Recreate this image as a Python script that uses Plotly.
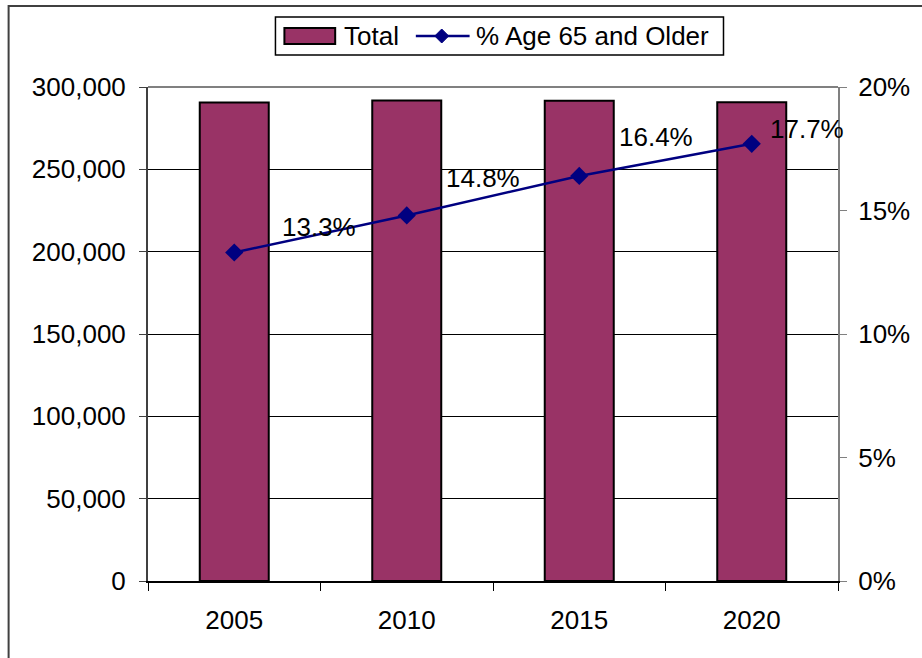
import plotly.graph_objects as go

years = ["2005", "2010", "2015", "2020"]
total = [290600, 291800, 291600, 290700]
pct_65 = [0.133, 0.148, 0.164, 0.177]
pct_labels = ["13.3%", "14.8%", "16.4%", "17.7%"]
series_names = ["Total", "% Age 65 and Older"]

# label offsets (px) mimicking Excel's label placement
label_dx = [85, 76, 77, 55]
label_dy = [25, 37, 39, 15]

FONT = "Liberation Sans, Arial, sans-serif"
FS = 26
BAR_COLOR = "#993366"
LINE_COLOR = "#000080"

W, H = 922, 658
ML, MR, MT, MB = 148, 81, 87, 77
PW, PH = W - ML - MR, H - MT - MB


def px(x):
    return (x - ML) / PW


def py(y):
    return 1 - (y - MT) / PH


fig = go.Figure()
fig.add_trace(go.Bar(
    x=years, y=total, name=series_names[0], width=0.4, showlegend=False,
    marker=dict(color=BAR_COLOR, line=dict(color="black", width=2)),
))
fig.add_trace(go.Scatter(
    x=years, y=pct_65, name=series_names[1], yaxis="y2", showlegend=False,
    mode="lines+markers",
    line=dict(color=LINE_COLOR, width=2.5),
    marker=dict(symbol="diamond", size=14, color=LINE_COLOR),
))

for i, (v, t, dx, dy) in enumerate(zip(pct_65, pct_labels, label_dx, label_dy)):
    fig.add_annotation(x=i, xref="x", y=v, yref="y2", text=t, showarrow=False,
                       xshift=dx, yshift=dy,
                       font=dict(family=FONT, size=FS, color="black"))

# manual Excel-style legend
shapes = [
    dict(type="line", xref="paper", yref="paper", x0=0, x1=1, y0=1, y1=1,
         line=dict(color="#808080", width=2), layer="above"),
    dict(type="rect", xref="paper", yref="paper", x0=px(8), x1=2, y0=-1, y1=py(6),
         line=dict(color="#404040", width=2), layer="above"),
    dict(type="rect", xref="paper", yref="paper", x0=px(276), x1=px(726),
         y0=py(55), y1=py(17), line=dict(color="black", width=1.5),
         fillcolor="white", layer="above"),
    dict(type="rect", xref="paper", yref="paper", x0=px(285), x1=px(336),
         y0=py(44), y1=py(28), line=dict(color="black", width=2),
         fillcolor=BAR_COLOR, layer="above"),
    dict(type="line", xref="paper", yref="paper", x0=px(417), x1=px(471),
         y0=py(36), y1=py(36), line=dict(color=LINE_COLOR, width=2.5), layer="above"),
    dict(type="path", xref="paper", yref="paper",
         path=f"M {px(443)},{py(29)} L {px(450)},{py(36)} L {px(443)},{py(43)} L {px(436)},{py(36)} Z",
         line=dict(color=LINE_COLOR, width=1), fillcolor=LINE_COLOR, layer="above"),
]
fig.add_annotation(x=px(343), y=py(36), xref="paper", yref="paper", text=series_names[0],
                   xanchor="left", yanchor="middle", showarrow=False,
                   font=dict(family=FONT, size=FS, color="black"))
fig.add_annotation(x=px(475), y=py(36), xref="paper", yref="paper", text=series_names[1],
                   xanchor="left", yanchor="middle", showarrow=False,
                   font=dict(family=FONT, size=FS, color="black"))

fig.update_layout(
    width=W, height=H,
    margin=dict(l=ML, r=MR, t=MT, b=MB),
    paper_bgcolor="white", plot_bgcolor="white",
    font=dict(family=FONT, size=FS, color="black"),
    showlegend=False,
    xaxis=dict(type="category", range=[-0.5, 3.5], showline=True, linecolor="black",
               linewidth=2, ticks="outside", ticklen=8, tickcolor="black",
               tickson="boundaries", showgrid=False, ticklabelstandoff=15,
               tickfont=dict(family=FONT, size=FS)),
    yaxis=dict(range=[0, 300000], dtick=50000, tickformat=",", showline=True,
               linecolor="#404040", linewidth=2, ticks="outside", ticklen=7,
               tickcolor="#404040", showgrid=True, gridcolor="black", gridwidth=1,
               zeroline=False, ticklabelstandoff=8,
               tickfont=dict(family=FONT, size=FS)),
    yaxis2=dict(range=[0, 0.2], dtick=0.05, tickformat=".0%", overlaying="y",
                side="right", showline=True, linecolor="#808080", linewidth=2,
                ticks="outside", ticklen=7, tickcolor="#808080", showgrid=False,
                zeroline=False, ticklabelstandoff=6,
                tickfont=dict(family=FONT, size=FS)),
    shapes=shapes,
)

fig.write_html("out.html")
